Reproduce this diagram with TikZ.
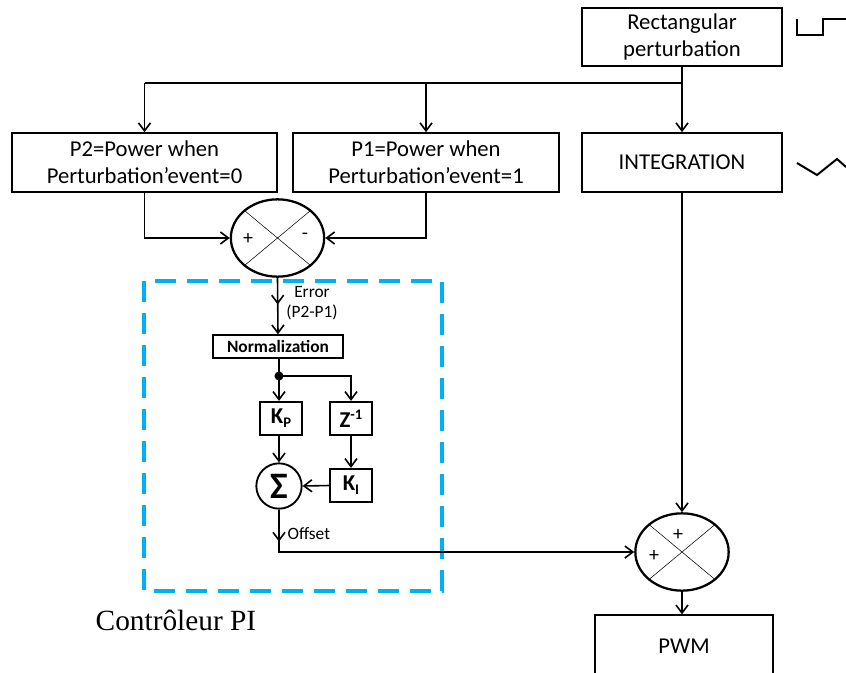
\documentclass[tikz,border=0pt]{standalone}
\usepackage{fontspec}
\setmainfont{Carlito}
\newfontfamily\timesfont{Liberation Serif}
\usetikzlibrary{arrows.meta,shapes.geometric,positioning,decorations.markings}
\definecolor{piblue}{RGB}{0,176,240}

\tikzset{
  blk/.style={draw, line width=1.5pt, align=center, inner sep=0pt,
    font=\fontsize{17}{20}\selectfont},
  gain/.style={blk, line width=1.4pt, minimum width=31pt, minimum height=25pt,
    font=\bfseries\fontsize{17}{17}\selectfont},
  sumnode/.style={draw, ellipse, line width=1.7pt, inner sep=0pt,
    minimum width=70pt, minimum height=58pt},
  lbl/.style={inner sep=1pt, font=\fontsize{13}{15}\selectfont},
  sgn/.style={inner sep=0pt, font=\fontsize{15}{15}\selectfont},
  wire/.style={line width=1.2pt},
  arr/.style={wire, -{Straight Barb[length=6pt,width=9pt]}},
  midarr/.style={decoration={markings,
      mark=at position #1 with {\arrow{Straight Barb[length=6pt,width=9pt]}}},
    postaction=decorate},
  pibox/.style={draw=piblue, line width=3pt, dash pattern=on 16pt off 8pt}
}

\begin{document}
\begin{tikzpicture}[x=0.75pt,y=-0.75pt]
  \useasboundingbox (0,0) rectangle (846,672);

  % blocs du haut
  \node[blk, minimum width=150pt, minimum height=43pt] (pert) at (682,37) {Rectangular\\perturbation};
  \node[blk, minimum width=199pt, minimum height=44pt] (ptwo) at (144.5,162.5) {P2=Power when\\Perturbation’event=0};
  \node[blk, minimum width=200pt, minimum height=44pt] (pone) at (426,162.5) {P1=Power when\\Perturbation’event=1};
  \node[blk, minimum width=150pt, minimum height=44pt] (integ) at (682,162.5) {INTEGRATION};
  \node[blk, minimum width=133pt, minimum height=46pt] (pwm) at (684,646) {PWM};

  % formes d'onde
  \draw[line width=1.5pt] (797,19) -- (797,35) -- (823,35) -- (823,19) -- (846,19);
  \draw[line width=1.5pt] (797,163) -- (817,175) -- (837,159) -- (846,167);

  % comparateurs
  \node[sumnode] (err) at (277.5,238) {};
  \draw[thin] (err.north west) -- (err.south east) (err.north east) -- (err.south west);
  \node[sgn] (errp) at (248,239) {+};
  \node[sgn] (errm) at (305,236) {-};
  \node[sumnode] (add) at (682,552) {};
  \draw[thin] (add.north west) -- (add.south east) (add.north east) -- (add.south west);
  \node[sgn] (addt) at (678,535) {+};
  \node[sgn] (addl) at (654,556) {+};

  % distribution de la perturbation
  \coordinate (tap) at (682,83);
  \draw[arr] (pert.south) -- (integ.north);
  \draw[wire] (tap) -- (ptwo.north |- tap);
  \draw[arr] (ptwo.north |- tap) -- (ptwo.north);
  \draw[arr] (pone.north |- tap) -- (pone.north);
  \draw[arr] (ptwo.south) |- (err.west);
  \draw[arr] (pone.south) |- (err.east);

  % correcteur PI
  \draw[pibox] (144,281) rectangle (442,591);
  \node[blk, line width=1.3pt, minimum width=97pt, minimum height=17pt,
    font=\bfseries\fontsize{13}{13}\selectfont] (norm) at (278,346.5) {Normalization};
  \draw[arr, midarr=20pt] (err.south) -- (norm.north);
  \node[lbl, align=center] (errlbl) at (312,303) {Error\\(P2-P1)};

  \node[gain] (kp) at (281,418.5) {K\raisebox{-0.35ex}{\fontsize{11}{11}\selectfont P}};
  \node[gain] (zinv) at (351,418.5) {Z\raisebox{0.7ex}{\fontsize{11}{11}\selectfont -1}};
  \node[gain] (ki) at (351,485.5) {K\raisebox{-0.35ex}{\fontsize{11}{11}\selectfont I}};
  \node[draw, circle, line width=1.4pt, minimum size=34pt, inner sep=0pt,
    font=\bfseries\fontsize{28}{28}\selectfont] (sig) at (279,486) {Σ};

  \coordinate (jn) at (279,376);
  \draw[wire] (norm.south -| jn) -- (jn);
  \fill (jn) circle (3.4pt);
  \draw[arr] (jn) -- (kp.north -| jn);
  \draw[arr] (jn) -| (zinv.north);
  \draw[arr] (kp.south -| sig) -- (sig.north);
  \draw[arr] (zinv.south) -- (ki.north);
  \draw[arr] (ki.west) -- (sig.east);
  \draw[arr, midarr=24pt] (sig.south) |- (add.west);
  \node[lbl, anchor=west] (offlbl) at (286,534) {Offset};

  \draw[arr] (integ.south) -- (add.north);
  \draw[arr] (add.south) -- (add.south |- pwm.north);

  \node[font=\timesfont\fontsize{22}{24}\selectfont, inner sep=0pt] (pilbl) at (176,620) {Contrôleur PI};
\end{tikzpicture}
\end{document}
